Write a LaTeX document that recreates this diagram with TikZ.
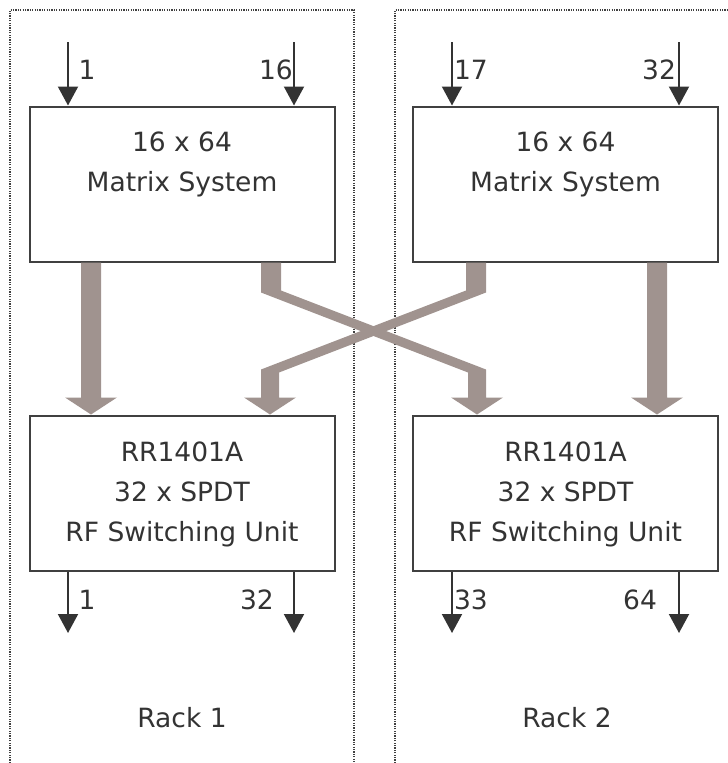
\documentclass[tikz,border=0pt]{standalone}
\usepackage{fontspec}
\setmainfont{DejaVu Sans}
\usetikzlibrary{arrows.meta,positioning}

\definecolor{boxgray}{RGB}{64,64,64}
\definecolor{textgray}{RGB}{51,51,51}
\definecolor{busbrown}{RGB}{160,147,143}

\begin{document}
\begin{tikzpicture}
[x=1pt,y=-1pt,%
  unitdecorate/.style={shape=rectangle,draw=boxgray,line width=2pt,inner sep=0pt,
    minimum width=305pt,minimum height=155pt},%
  textdecorate/.style={text=textgray,font=\fontsize{26.5}{40}\selectfont,align=center,inner sep=0pt},%
  portdecorate/.style={text=textgray,font=\fontsize{26.5}{31}\selectfont,inner sep=0pt,anchor=base},%
  sigdecorate/.style={draw=textgray,line width=2pt,-{Triangle[length=19pt,width=20pt]}},%
  rackdecorate/.style={draw=boxgray,line width=1.6pt,dash pattern=on 1.2pt off 1.2pt},%
  busdecorate/.style={fill=busbrown,draw=none},%
  busstraight/.pic={\path[busdecorate] (-10,0) -- (10,0) -- (10,135) -- (26,135)
    -- (0,152) -- (-26,135) -- (-10,135) -- cycle;},%
  buscross/.pic={\path[busdecorate] (-10,0) -- (10,0) -- (10,28) -- (215,107)
    -- (215,135) -- (232,135) -- (206,152) -- (180,135) -- (197,135)
    -- (197,110) -- (-10,30) -- cycle;}]
\useasboundingbox (0,0) rectangle (728,763);

%% racks
\draw[rackdecorate] (10,763) -- (10,10) -- (354,10) -- (354,763);
\draw[rackdecorate] (395,763) -- (395,10) -- (740,10);
\node (rack1) at (182,727) [portdecorate] {Rack 1};
\node (rack2) at (567,727) [portdecorate] {Rack 2};

%% units
\foreach \nodename/\x/\y in {m1/182/184, m2/565.5/184, s1/182/493.5, s2/565.5/493.5}
{
  \node (\nodename) at (\x,\y) [unitdecorate] {};
}
\node (m1text) [textdecorate,below=26.5pt of m1.north] {16 x 64\\Matrix System};
\node (m2text) [textdecorate,below=26.5pt of m2.north] {16 x 64\\Matrix System};
\node (s1text) [textdecorate,below=26.5pt of s1.north] {RR1401A\\32 x SPDT\\RF Switching Unit};
\node (s2text) [textdecorate,below=26.5pt of s2.north] {RR1401A\\32 x SPDT\\RF Switching Unit};

%% inputs and outputs
\foreach \nodename/\x/\unit in {a/68/m1, b/294/m1, c/452/m2, d/679/m2}
{
  \coordinate (in\nodename) at (\x,42);
  \draw[sigdecorate] (in\nodename) -- (in\nodename |- \unit.north);
}
\foreach \nodename/\x/\unit in {a/68/s1, b/294/s1, c/452/s2, d/679/s2}
{
  \coordinate (out\nodename) at (\x,633);
  \draw[sigdecorate] (out\nodename |- \unit.south) -- (out\nodename);
}
\foreach \nodename/\x/\y/\txt in {ina/87/79/1, inb/276/79/16, inc/471/79/17, ind/659/79/32,
  outa/87/609/1, outb/257/609/32, outc/471/609/33, outd/640/609/64}
{
  \node (l\nodename) at (\x,\y) [portdecorate] {\txt};
}

%% buses between the units
\pic at (91,0 |- m1.south) {busstraight};
\pic at (657,0 |- m2.south) {busstraight};
\pic at (271,0 |- m1.south) {buscross};
\pic[xscale=-1] at (476,0 |- m2.south) {buscross};
\end{tikzpicture}
\end{document}
